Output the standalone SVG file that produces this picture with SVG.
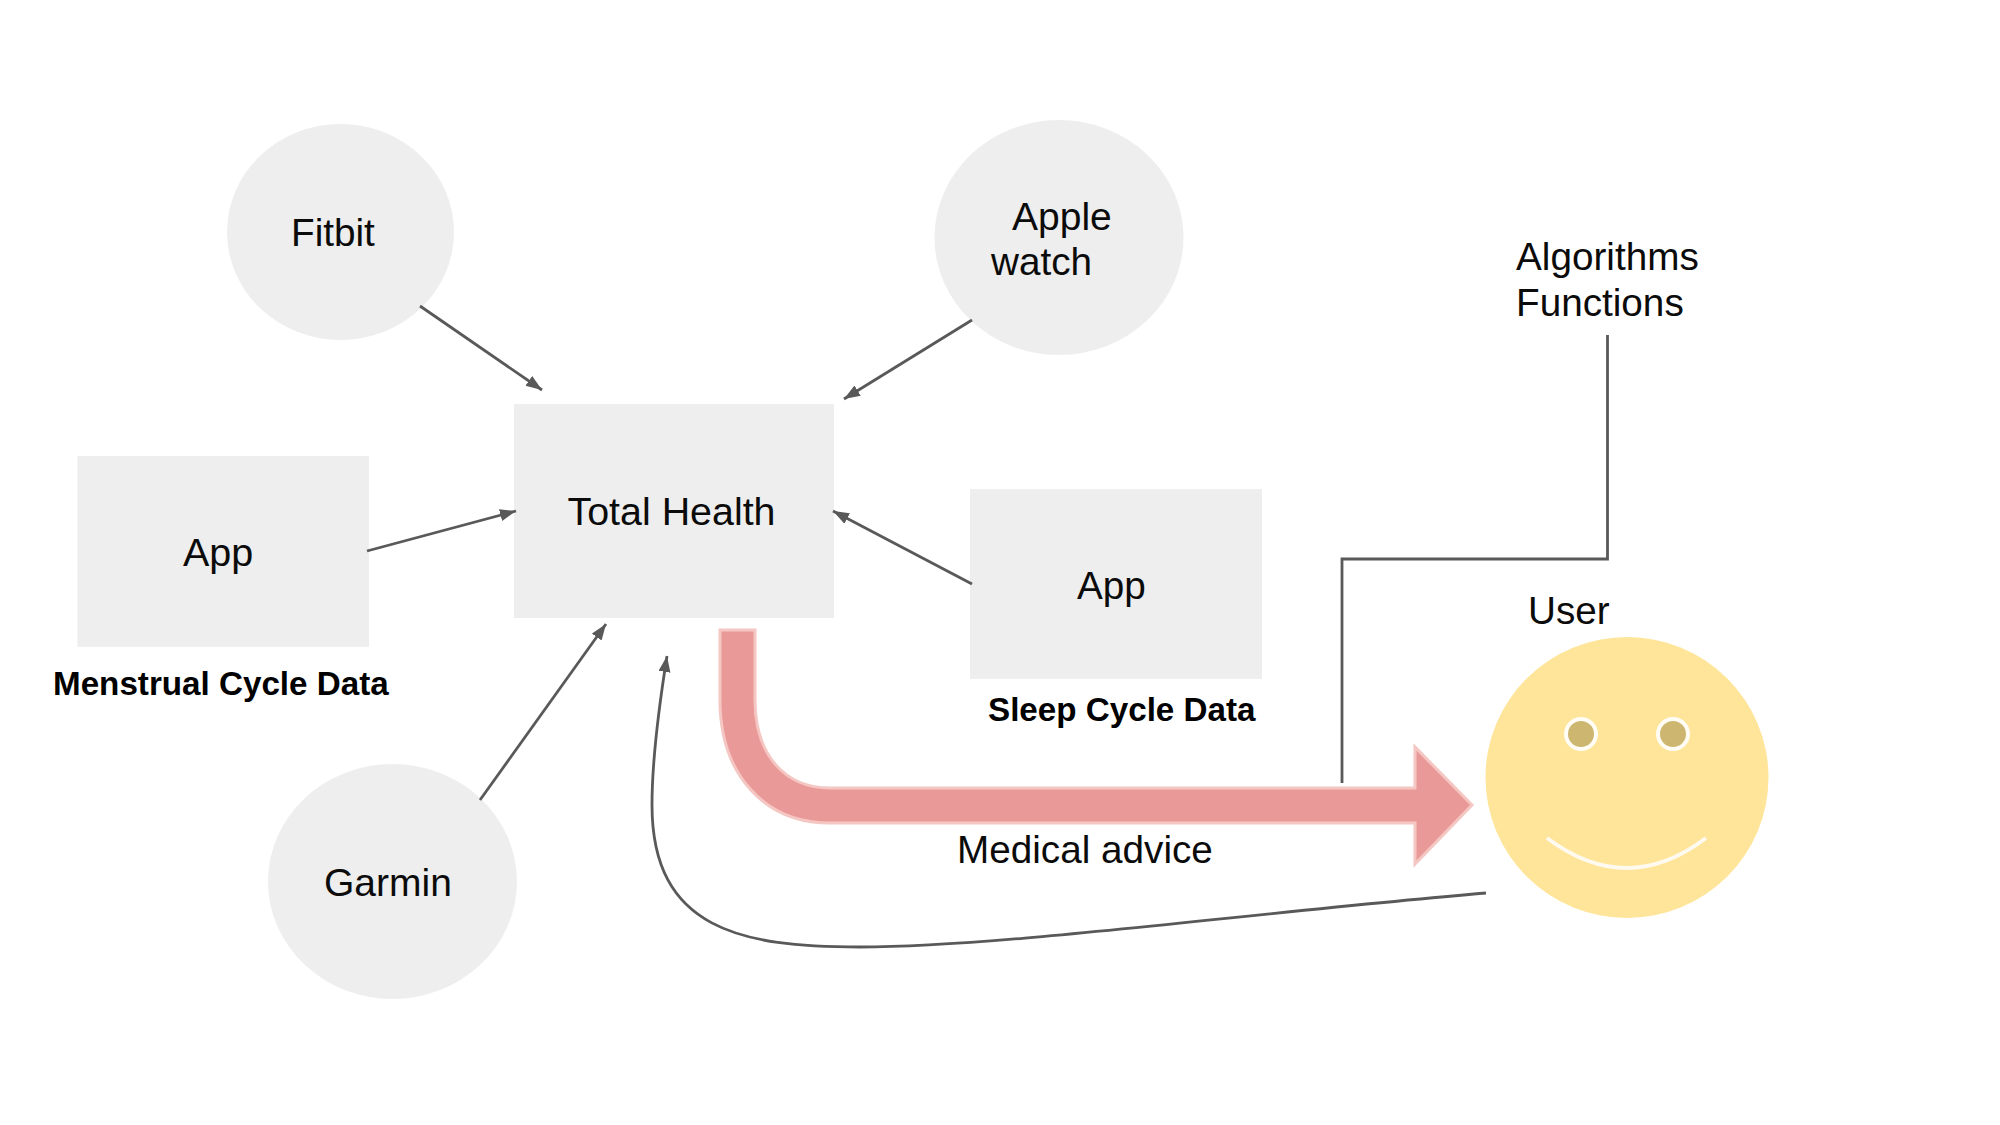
<svg xmlns="http://www.w3.org/2000/svg" width="2000" height="1125" viewBox="0 0 2000 1125">
<style>
text{font-family:"Liberation Sans",Arial,sans-serif;font-size:38.7px;fill:#0b0b0b}
text.b{font-weight:700;font-size:33.2px;fill:#000}
.n{fill:#eeeeee;stroke:none}
.c{fill:none;stroke:#595959;stroke-width:2.800}
</style>
<defs><marker id="a" markerUnits="userSpaceOnUse" markerWidth="18" markerHeight="14" refX="16" refY="6" orient="auto"><path d="M0,0L16,6L0,12Z" fill="#595959"/></marker></defs>
<rect width="2000" height="1125" fill="#fff"/>
<g id="fitbit"><ellipse class="n" cx="340.500" cy="232" rx="113.500" ry="108"/><text x="291" y="246">Fitbit</text></g>
<g id="apple-watch"><ellipse class="n" cx="1059" cy="237.500" rx="124.500" ry="117.500"/><text x="1012" y="229.500" style="font-size:39px">Apple</text><text x="991" y="275">watch</text></g>
<g id="total-health"><rect class="n" x="514" y="404" width="320" height="214"/><text x="567.500" y="525" style="font-size:39.400px">Total Health</text></g>
<g id="app-menstrual"><rect class="n" x="77.500" y="456" width="291.500" height="191"/><text x="183" y="566" style="font-size:39.500px">App</text><text class="b" x="53" y="695">Menstrual Cycle Data</text></g>
<g id="app-sleep"><rect class="n" x="970" y="489" width="292" height="190"/><text x="1077" y="599">App</text><text class="b" x="988" y="721">Sleep Cycle Data</text></g>
<g id="garmin"><ellipse class="n" cx="392.500" cy="881.500" rx="124.500" ry="117.500"/><text x="324" y="896" style="font-size:39px">Garmin</text></g>
<g id="algorithms"><text x="1516" y="270">Algorithms</text><text x="1516" y="316">Functions</text></g>
<g id="user"><text x="1528" y="624">User</text><ellipse cx="1627" cy="777.500" rx="141.500" ry="140.500" fill="#ffe599"/>
<ellipse cx="1581" cy="734" rx="15" ry="15" fill="#cdb66f" stroke="#fffdf5" stroke-width="4"/><ellipse cx="1673" cy="734" rx="15" ry="15" fill="#cdb66f" stroke="#fffdf5" stroke-width="4"/>
<path d="M1547,838Q1627,898 1706,838" fill="none" stroke="#fffaf0" stroke-width="4"/></g>
<g id="connectors">
<path class="c" marker-end="url(#a)" d="M420,306L542,390"/>
<path class="c" marker-end="url(#a)" d="M972,320L844,399"/>
<path class="c" marker-end="url(#a)" d="M367,551L516,511"/>
<path class="c" marker-end="url(#a)" d="M972,584L833,511"/>
<path class="c" marker-end="url(#a)" d="M480,800L606,624"/>
<path class="c" d="M1607.500,335V559H1342V783"/>
<path class="c" marker-end="url(#a)" d="M1486,893C1250,913 1000,947 860,947C742,947 652,930 652,805C652,760 660,700 667,656"/>
<path d="M720,630H755V700C755,755 785,788 830,788H1415V747L1472,805L1415,864V823H830C765,823 720,775 720,700Z" fill="#ea9999" stroke="#f4c7c3" stroke-width="3"/>
<text x="957" y="863">Medical advice</text>
</g>
</svg>
